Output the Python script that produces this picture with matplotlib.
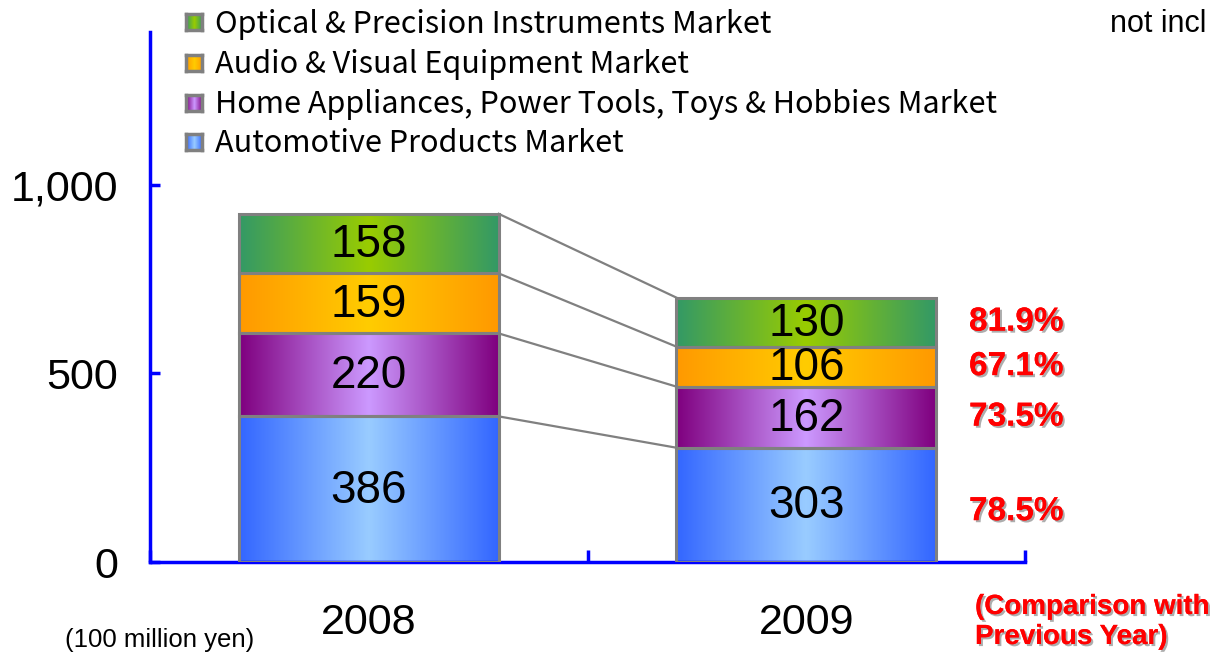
import numpy as np
import matplotlib
matplotlib.use("Agg")
import matplotlib.pyplot as plt
from matplotlib.patches import Rectangle
from matplotlib.colors import to_rgb
import matplotlib.patheffects as pe

years = ["2008", "2009"]
markets = [
    "Automotive Products Market",
    "Home Appliances, Power Tools, Toys & Hobbies Market",
    "Audio & Visual Equipment Market",
    "Optical & Precision Instruments Market",
]
values = {
    "2008": [386, 220, 159, 158],
    "2009": [303, 162, 106, 130],
}
yoy_pct = ["78.5%", "73.5%", "67.1%", "81.9%"]
y_ticks = [0, 500, 1000]
y_tick_labels = ["0", "500", "1,000"]

# (edge colour, centre colour) for the horizontal gradient of each market
grad_colors = [
    ("#3366ff", "#99ccff"),
    ("#7f007f", "#cc99ff"),
    ("#ff9900", "#ffcc00"),
    ("#339966", "#99cc00"),
]

arial = "Liberation Sans"
legend_font = ["Noto Sans CJK JP", "DejaVu Sans"]


def gradient(edge, centre, n=200):
    e = np.array(to_rgb(edge))
    c = np.array(to_rgb(centre))
    t = np.abs(np.linspace(-1, 1, n))[None, :, None]
    return c * (1 - t) + e * t


fig = plt.figure(figsize=(12.24, 6.54), dpi=100)
ax = fig.add_axes([150 / 1224, 1 - 562 / 654, 875 / 1224, 530 / 654])
ax.set_xlim(-0.5, 1.5)
ax.set_ylim(0, 1405)

bar_w = 0.594
tops = {}
for i, yr in enumerate(years):
    bottom = 0
    tops[yr] = []
    for k, v in enumerate(values[yr]):
        x0, x1 = i - bar_w / 2, i + bar_w / 2
        ax.imshow(gradient(*grad_colors[k]), extent=(x0, x1, bottom, bottom + v),
                  aspect="auto", zorder=2, interpolation="bilinear")
        ax.add_patch(Rectangle((x0, bottom), bar_w, v, fill=False,
                               edgecolor="#808080", lw=2.2, zorder=3))
        ax.text(i, bottom + v / 2 - 4, str(v), ha="center", va="center",
                fontsize=33, family=arial, zorder=4)
        bottom += v
        tops[yr].append(bottom)

# connector lines between the two bars
for a, b in zip(tops["2008"], tops["2009"]):
    ax.plot([bar_w / 2, 1 - bar_w / 2], [a, b], color="#808080", lw=1.6, zorder=1)

# year-on-year percentages
shadow = [pe.withSimplePatchShadow(offset=(1.5, -1.5), shadow_rgbFace="#999999", alpha=0.8),
          pe.Normal()]
bottom = 0
for k, v in enumerate(values["2009"]):
    y = bottom + v / 2
    if k == 0:
        y -= 18
    ax.text(1 + bar_w / 2 + 0.075, y, yoy_pct[k], ha="left", va="center",
            fontsize=24, fontweight="bold", color="red", family=arial,
            path_effects=shadow)
    bottom += v

ax.set_xlim(-0.5, 1.5)
ax.set_ylim(0, 1405)

for s in ["top", "right"]:
    ax.spines[s].set_visible(False)
for s in ["left", "bottom"]:
    ax.spines[s].set_color("#0000ff")
    ax.spines[s].set_linewidth(2.5)

ax.set_yticks(y_ticks)
ax.set_yticklabels(y_tick_labels, fontsize=31, family=arial)
ax.set_xticks([-0.5, 0.5, 1.5])
ax.set_xticklabels([])
ax.tick_params(axis="y", direction="in", length=7, width=2.5, color="#0000ff", pad=23)
ax.tick_params(axis="x", direction="in", length=9, width=2.5, color="#0000ff")
for i, yr in enumerate(years):
    ax.text(i, -0.115, yr, transform=ax.get_xaxis_transform(), ha="center", va="center",
            fontsize=31, family=arial, clip_on=False)

# legend
leg_rows = [142, 103, 63, 22]
for k, name in enumerate(markets):
    yc = leg_rows[k]
    sq = fig.add_axes([186 / 1224, 1 - (yc + 8) / 654, 16 / 1224, 16 / 654])
    sq.imshow(gradient(*grad_colors[k], n=30), aspect="auto", extent=(0, 1, 0, 1))
    sq.set_xticks([])
    sq.set_yticks([])
    for sp in sq.spines.values():
        sp.set_color("#808080")
        sp.set_linewidth(2.5)
    fig.text(215 / 1224, 1 - (yc + 2) / 654, name, ha="left", va="center",
             fontsize=22, family=legend_font)

fig.text(1110 / 1224, 1 - 24 / 654, "not incl", ha="left", va="center",
         fontsize=22, family=arial)
fig.text(65 / 1224, 1 - 640 / 654, "(100 million yen)", ha="left", va="center",
         fontsize=18.5, family=arial)
fig.text(975 / 1224, 1 - 622 / 654, "(Comparison with\nPrevious Year)", ha="left",
         va="center", fontsize=20, fontweight="bold", color="red", family=arial,
         linespacing=1.2, path_effects=shadow)

fig.savefig("out.png", dpi=100)
